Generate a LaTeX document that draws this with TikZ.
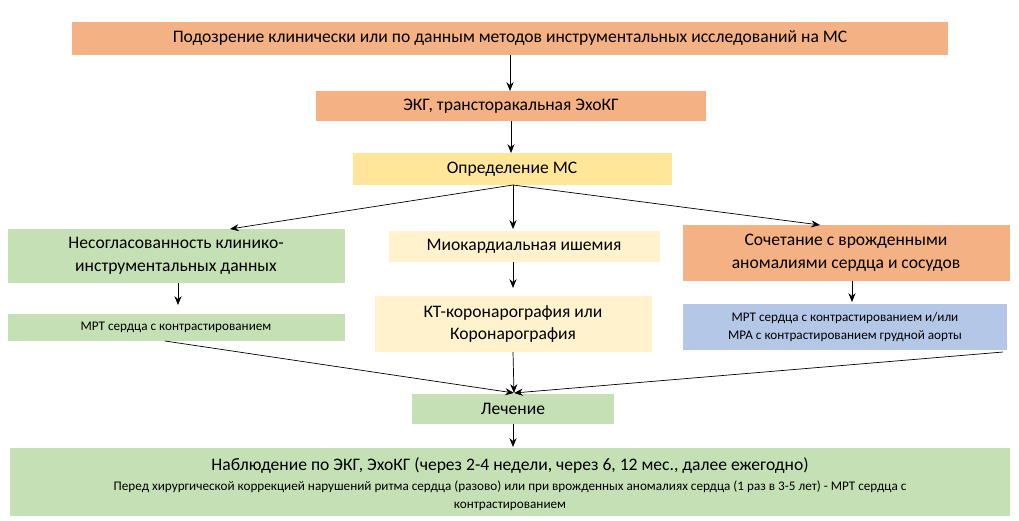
\documentclass[tikz,border=0pt]{standalone}
\usepackage{fontspec}
\setmainfont{Carlito}
\usetikzlibrary{arrows.meta,positioning}

\definecolor{orng}{HTML}{F4B183}
\definecolor{ylw}{HTML}{FFE699}
\definecolor{lylw}{HTML}{FFF2CC}
\definecolor{grn}{HTML}{C5E0B4}
\definecolor{blu}{HTML}{B4C7E7}

\begin{document}
\begin{tikzpicture}[x=0.02cm,y=-0.02cm,>={Stealth[length=5pt,width=4pt]},
    box/.style={inner sep=0pt,align=center,font=\fontsize{10}{13}\selectfont},
    small/.style={font=\fontsize{7.5}{10}\selectfont}]
    \useasboundingbox (0,0) rectangle (1019,521);

    \fill[orng] (72,22) rectangle (948,55);
    \node[box] (susp) at (510,38.5) {Подозрение клинически или по данным методов инструментальных исследований на МС};
    \fill[orng] (316,91) rectangle (706,121);
    \node[box] (ekg) at (511,106) {ЭКГ, трансторакальная ЭхоКГ};
    \fill[ylw] (353,153) rectangle (672,185);
    \node[box] (opr) at (512,169) {Определение МС};
    \fill[grn] (8,229) rectangle (345,283);
    \node[box] (nesogl) at (176,256) {Несогласованность клинико-\\инструментальных данных};
    \fill[lylw] (389,231) rectangle (660,262);
    \node[box] (ishem) at (524,246.5) {Миокардиальная ишемия};
    \fill[orng] (683,225) rectangle (1010,281);
    \node[box] (anom) at (846,253) {Сочетание с врожденными\\аномалиями сердца и сосудов};
    \fill[grn] (8,314) rectangle (345,341);
    \node[box,small] (mrt) at (176,327.5) {МРТ сердца с контрастированием};
    \fill[lylw] (375,296) rectangle (652,352);
    \node[box] (kt) at (513,324) {КТ-коронарография или\\Коронарография};
    \fill[blu] (683,304) rectangle (1007,350);
    \node[box,small] (mra) at (845,327) {МРТ сердца с контрастированием и/или\\МРА с контрастированием грудной аорты};
    \fill[grn] (412,394) rectangle (614,424);
    \node[box] (lech) at (513,409) {Лечение};
    \fill[grn] (10,448) rectangle (1010,516);
    \node[box] (nabl) at (510,466) {Наблюдение по ЭКГ, ЭхоКГ (через 2-4 недели, через 6, 12 мес., далее ежегодно)};
    \node[box,small] (pered) at (510,496) {Перед хирургической коррекцией нарушений ритма сердца (разово) или при врожденных аномалиях сердца (1 раз в 3-5 лет) - МРТ сердца с\\контрастированием};

    \coordinate (c1) at (510,55);  \coordinate (c2) at (510,91);
    \coordinate (c3) at (511,121); \coordinate (c4) at (511,153);
    \coordinate (o) at (513,185);
    \draw[->] (c1) -- (c2);
    \draw[->] (c3) -- (c4);
    \draw[->] (o) -- (230,229);
    \draw[->] (o) -- (513,229);
    \draw[->] (o) -- (820,225);
    \draw[->] (178,283) -- (178,305);
    \draw[->] (513,262) -- (513,288);
    \draw[->] (852,281) -- (852,302);
    \coordinate (l) at (514,393);
    \draw[->] (165,341) -- (l);
    \draw[->] (513,352) -- (l);
    \draw[->] (1003,352) -- (l);
    \draw[->] (513,424) -- (513,447);
\end{tikzpicture}
\end{document}
